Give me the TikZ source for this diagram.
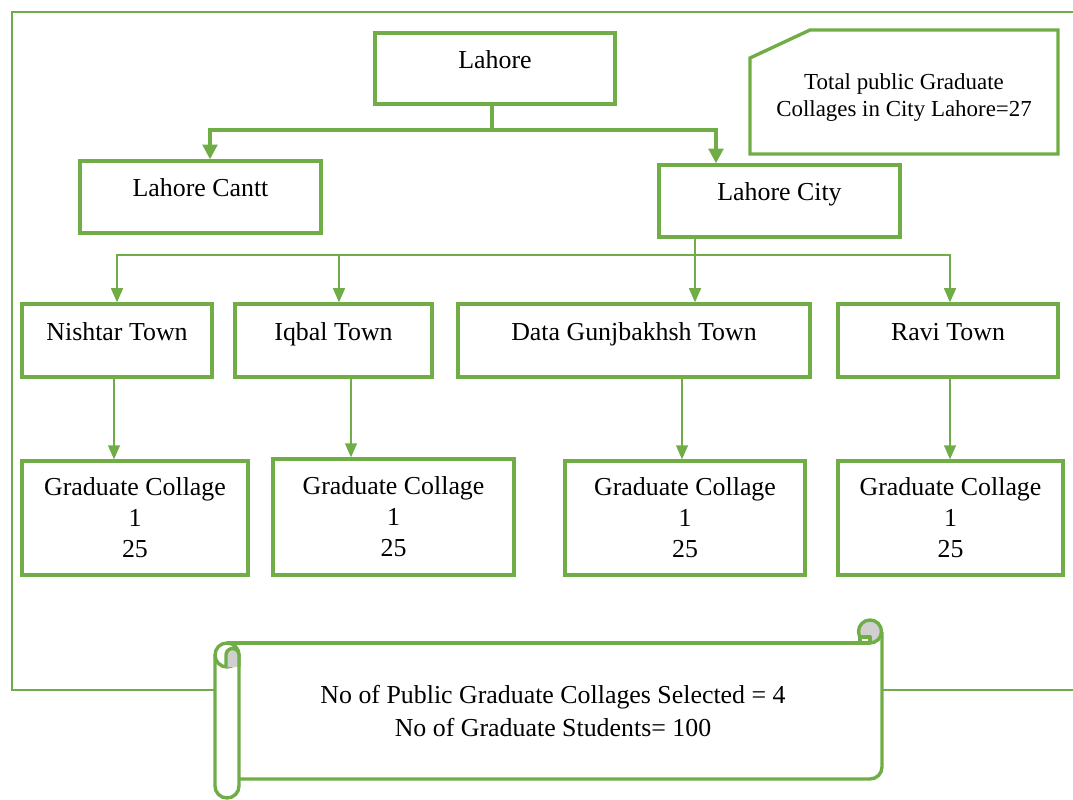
\documentclass[tikz,border=0pt]{standalone}
\usepackage{fontspec}
\setmainfont{Liberation Serif}
\usetikzlibrary{arrows.meta,positioning,calc}
\definecolor{leaf}{RGB}{112,173,71}
\definecolor{curlgrey}{RGB}{208,208,208}
\newcommand{\pxu}{0.025cm}

\begin{document}
\begin{tikzpicture}[x=0.025cm, y=-0.025cm,
  box/.style={draw=leaf, line width=2.4pt, align=center, inner sep=0pt,
    font=\fontsize{18.4}{22}\selectfont},
  single/.style={box, text height=1.5ex, text depth=1.5ex},
  trunk/.style={draw=leaf, line width=2.4pt, >={Triangle[length=10.5pt,width=10.5pt]}},
  feed/.style={draw=leaf, line width=1.1pt, >={Triangle[length=10pt,width=8.5pt]}},
  frame/.style={draw=leaf, line width=1.4pt},
  scroll/.style={draw=leaf, line width=2.4pt, line join=round}]
\useasboundingbox (0,0) rectangle (1073,800);

\draw[frame] (215,690) -- (12,690) -- (12,12) -- (1073,12);
\draw[frame] (882,690) -- (1073,690);

\node[single, minimum width=240*\pxu, minimum height=71*\pxu] (lahore) at (495,68.5) {Lahore};
\node[single, minimum width=241*\pxu, minimum height=72*\pxu] (cantt) at (200.5,197) {Lahore Cantt};
\node[single, minimum width=241*\pxu, minimum height=72*\pxu] (city) at (779.5,201) {Lahore City};

\node[single, minimum width=190*\pxu, minimum height=73*\pxu] (nishtar) at (117,340.5) {Nishtar Town};
\node[single, minimum width=197*\pxu, minimum height=73*\pxu] (iqbal) at (333.5,340.5) {Iqbal Town};
\node[single, minimum width=352*\pxu, minimum height=73*\pxu] (data) at (634,340.5) {Data Gunjbakhsh Town};
\node[single, minimum width=220*\pxu, minimum height=73*\pxu] (ravi) at (948,340.5) {Ravi Town};

\node[box, minimum width=226*\pxu, minimum height=114*\pxu] (colA) at (135,518) {Graduate Collage\\1\\25};
\node[box, minimum width=241*\pxu, minimum height=116*\pxu] (colB) at (393.5,517) {Graduate Collage\\1\\25};
\node[box, minimum width=240*\pxu, minimum height=114*\pxu] (colC) at (685,518) {Graduate Collage\\1\\25};
\node[box, minimum width=225*\pxu, minimum height=114*\pxu] (colD) at (950.5,518) {Graduate Collage\\1\\25};

% note in the corner
\draw[box] (750,58) -- (810,30) -- (1058,30) -- (1058,154) -- (750,154) -- cycle;
\node[align=center, font=\fontsize{16.3}{19.2}\selectfont] (total) at (904,98)
  {Total public Graduate\\Collages in City Lahore=27};

% Lahore to its parts
\coordinate (jA) at (492,130);
\coordinate (jAl) at (210,130);
\coordinate (jAr) at (716,130);
\draw[trunk] (lahore.south -| jA) -- (jA);
\draw[trunk,->] (jA) -- (jAl) -- (cantt.north -| jAl);
\draw[trunk,->] (jA) -- (jAr) -- (city.north -| jAr);

% city to towns
\coordinate (jB) at (695,255);
\draw[feed] (city.south -| jB) -- (jB);
\foreach \t/\x in {nishtar/117, iqbal/339, data/695, ravi/950} {
  \coordinate (b\t) at (\x,255);
  \draw[feed,->] (jB) -- (b\t) -- (\t.north -| b\t);
}

% towns to collages
\foreach \t/\c/\x in {nishtar/colA/114, iqbal/colB/351, data/colC/682, ravi/colD/950} {
  \coordinate (d\c) at (\x,0);
  \draw[feed,->] (\t.south -| d\c) -- (\c.north -| d\c);
}

% scroll
\draw[scroll] (227,643) -- (870,643);
\draw[scroll, rounded corners=8.5pt] (882,632) -- (882,779) -- (238,779);
\draw[scroll, fill=curlgrey] (870,631.5) circle[radius=11.5];
\draw[scroll, fill=white] (860,637) rectangle (870,643);
\draw[scroll, fill=white, rounded corners=8.5pt] (215,655) -- (215,798) -- (239,798) -- (239,655);
\draw[scroll, fill=white] (227,655) circle[radius=12];
\draw[scroll, fill=curlgrey] (226,667) -- (226,655) arc[start angle=180, end angle=360, radius=6.5] -- (239,667);
\node[align=center, font=\fontsize{18.4}{22.8}\selectfont] (summary) at (553,711)
  {No of Public Graduate Collages Selected = 4\\No of Graduate Students= 100};
\end{tikzpicture}
\end{document}
